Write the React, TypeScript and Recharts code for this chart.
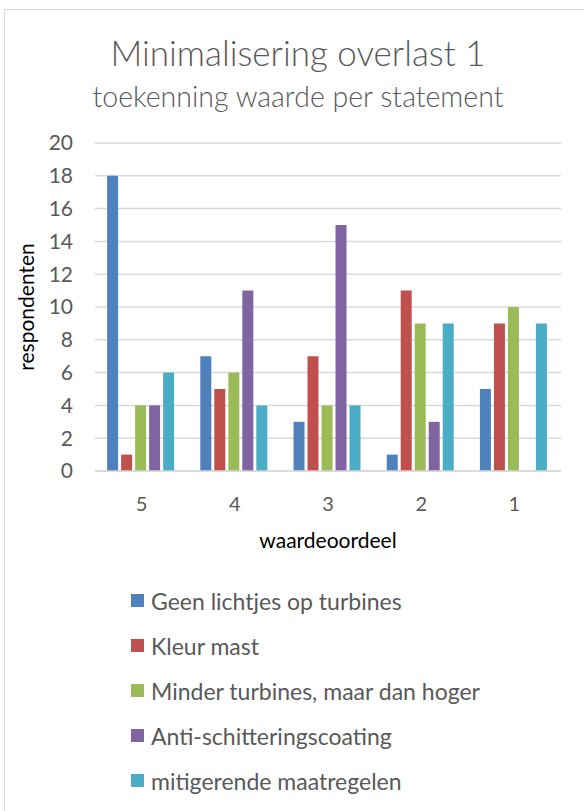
import { BarChart, Bar, XAxis, YAxis, CartesianGrid } from "recharts";

const categories = ["5", "4", "3", "2", "1"];
const geenLichtjes = [18, 7, 3, 1, 5];
const kleurMast = [1, 5, 7, 11, 9];
const minderTurbines = [4, 6, 4, 9, 10];
const antiSchittering = [4, 11, 15, 3, 0];
const mitigerende = [6, 4, 4, 9, 9];
const yTicks = [0, 2, 4, 6, 8, 10, 12, 14, 16, 18, 20];

const series = [
  { key: "geen", name: "Geen lichtjes op turbines", color: "#4F81BD", values: geenLichtjes },
  { key: "kleur", name: "Kleur mast", color: "#C0504D", values: kleurMast },
  { key: "minder", name: "Minder turbines, maar dan hoger", color: "#9BBB59", values: minderTurbines },
  { key: "anti", name: "Anti-schitteringscoating", color: "#8064A2", values: antiSchittering },
  { key: "mitig", name: "mitigerende maatregelen", color: "#4BACC6", values: mitigerende },
];

const data = categories.map((c, i) => {
  const row: Record<string, string | number> = { cat: c };
  series.forEach((s) => (row[s.key] = s.values[i]));
  return row;
});

const FONT = "Lato, 'Open Sans', sans-serif";
const TEXT = "#595959";

export default function App() {
  return (
    <div
      style={{
        position: "absolute",
        left: 4,
        top: 9,
        width: 600,
        height: 810,
        background: "#fff",
        border: "1px solid #d9d9d9",
        fontFamily: FONT,
      }}
    >
      <div style={{ position: "absolute", top: 21, left: 0, width: 586, textAlign: "center", fontSize: 35, color: TEXT, fontWeight: 300 }}>
        Minimalisering overlast 1
      </div>
      <div style={{ position: "absolute", top: 69, left: 0, width: 586, textAlign: "center", fontSize: 28.5, color: TEXT, fontWeight: 300 }}>
        toekenning waarde per statement
      </div>
      <div style={{ position: "absolute", top: 0, left: 0 }}>
        <BarChart
          width={596}
          height={560}
          data={data}
          margin={{ top: 133, right: 40, left: 30, bottom: 29 }}
          barCategoryGap="13%"
          barGap={3}
        >
          <CartesianGrid vertical={false} stroke="#d9d9d9" strokeWidth={1.5} />
          <XAxis
            dataKey="cat"
            axisLine={{ stroke: "#d9d9d9", strokeWidth: 1.5 }}
            tickLine={false}
            tick={{ fill: TEXT, fontSize: 20, fontFamily: FONT }}
            tickMargin={20}
            height={70}
            label={{ value: "waardeoordeel", position: "insideBottom", offset: -7, fill: "#000", fontSize: 21, fontFamily: FONT }}
          />
          <YAxis
            domain={[0, 20]}
            ticks={yTicks}
            axisLine={false}
            tickLine={false}
            tick={{ fill: TEXT, fontSize: 21, fontFamily: FONT }}
            tickMargin={16}
            width={60}
            label={{ value: "respondenten", angle: -90, position: "insideLeft", offset: -8, fill: "#000", fontSize: 21, fontFamily: FONT, style: { textAnchor: "middle" } }}
          />
          {series.map((s) => (
            <Bar key={s.key} dataKey={s.key} name={s.name} fill={s.color} isAnimationActive={false} />
          ))}
        </BarChart>
      </div>
      <div style={{ position: "absolute", top: 568, left: 126 }}>
        {series.map((s) => (
          <div key={s.key} style={{ display: "flex", alignItems: "center", height: 45 }}>
            <span style={{ width: 13, height: 13, background: s.color, marginRight: 7 }} />
            <span style={{ fontSize: 23, color: TEXT }}>{s.name}</span>
          </div>
        ))}
      </div>
    </div>
  );
}
